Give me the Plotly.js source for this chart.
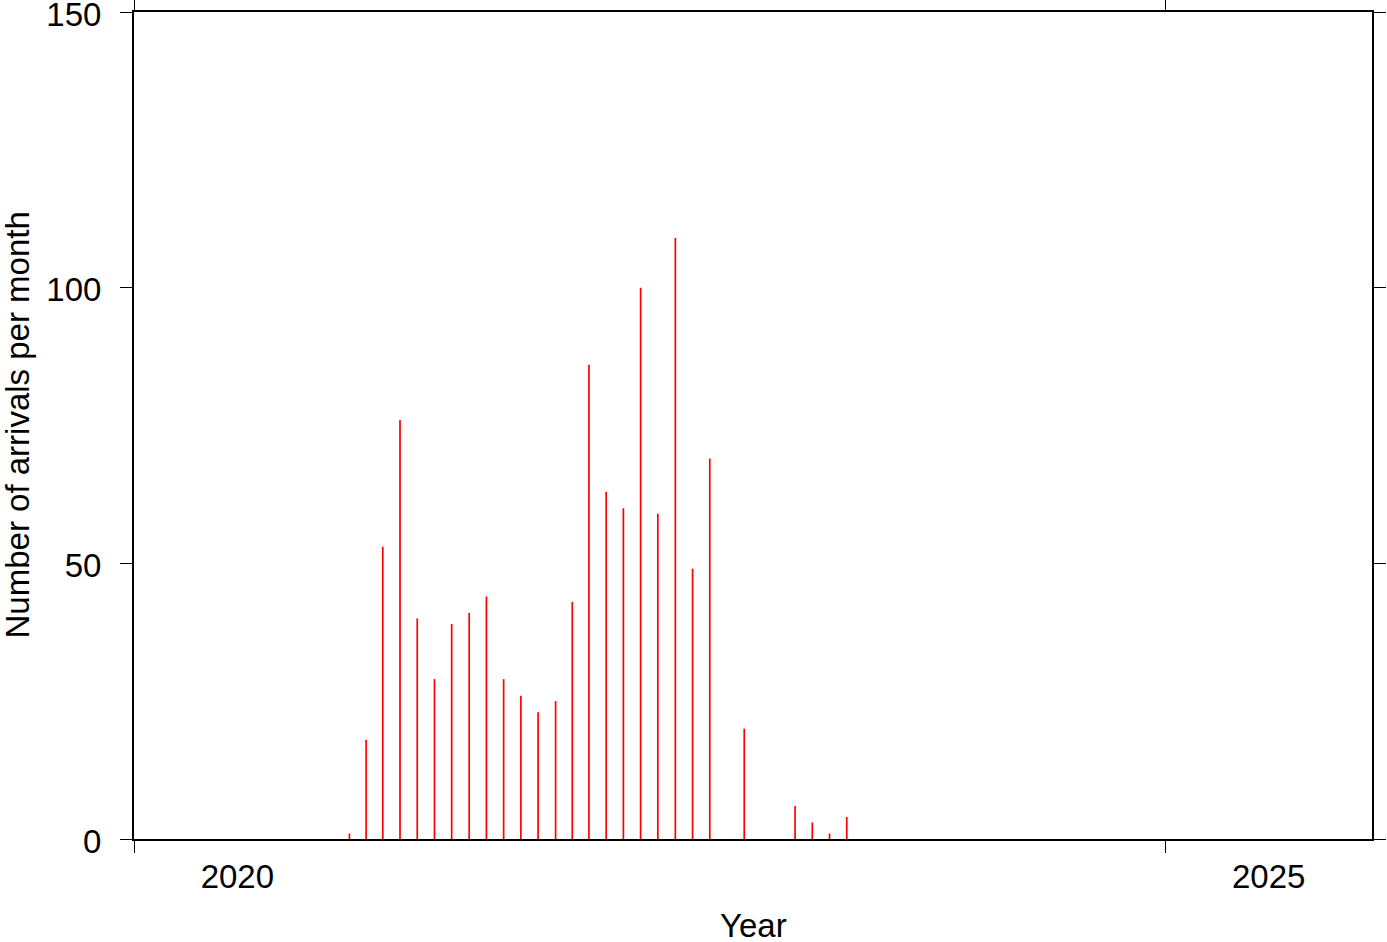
<!DOCTYPE html>
<html>
<head>
<meta charset="utf-8">
<script src="https://cdn.plot.ly/plotly-3.0.1.min.js"></script>
<style>html,body{margin:0;padding:0;background:#fff;}#chart{width:1387px;height:942px;}</style>
</head>
<body>
<div id="chart"></div>
<script>
// Monthly arrival counts
var months = ['2021-01','2021-02','2021-03','2021-04','2021-05','2021-06','2021-07','2021-08','2021-09','2021-10','2021-11','2021-12',
              '2022-01','2022-02','2022-03','2022-04','2022-05','2022-06','2022-07','2022-08','2022-09','2022-10','2022-11','2022-12',
              '2023-01','2023-02','2023-03','2023-04','2023-05','2023-06'];
var arrivals = [1,18,53,76,40,29,39,41,44,29,26,23,
                25,43,86,63,60,100,59,109,49,69,0,20,
                0,0,6,3,1,4];
var yearTickVals = ['2020-01-01','2025-01-01'];
var yearLabelVals = ['2020-07-02','2025-07-02'];
var yearLabels = ['2020','2025'];
var xRange = ['2020-01-01','2026-01-01'];
var yTicks = [0,50,100,150];
var xTitle = 'Year';
var yTitle = 'Number of arrivals per month';

var font = {family:'Liberation Sans, Arial, Helvetica, sans-serif', size:33, color:'#000'};

var trace = {
  type:'bar', x:months, y:arrivals, xperiod:'M1', xperiodalignment:'middle',
  width: 3*86400000,
  marker:{color:'#ff0000', line:{width:0}},
  hoverinfo:'x+y'
};

var layout = {
  width:1387, height:942,
  margin:{l:134, r:15, t:12, b:103},
  paper_bgcolor:'#fff', plot_bgcolor:'#fff',
  showlegend:false,
  font:font,
  xaxis:{
    type:'date', range:xRange, tickvals:yearTickVals, showticklabels:false,
    ticks:'outside', ticklen:12, tickwidth:1, tickcolor:'#000',
    showline:true, linewidth:2, linecolor:'#000', mirror:'allticks',
    showgrid:false, zeroline:false, fixedrange:true
  },
  xaxis2:{
    type:'date', overlaying:'x', anchor:'y', side:'bottom', range:xRange,
    tickvals:yearLabelVals, ticktext:yearLabels, ticks:'',
    ticklabelstandoff:15, showline:false, showgrid:false, zeroline:false,
    tickfont:font
  },
  yaxis:{
    range:[0,150], tickvals:yTicks, ticks:'outside', ticklen:12, tickwidth:1, tickcolor:'#000',
    showline:true, linewidth:2, linecolor:'#000', mirror:'allticks',
    showgrid:false, zeroline:false, tickfont:font, ticklabelstandoff:12,
    ticklabeloverflow:'allow', ticklabelshift:2
  },
  annotations:[
    {text:xTitle, xref:'paper', yref:'paper', x:0.5, y:0, xanchor:'center', yanchor:'middle',
     yshift:-86, showarrow:false, font:font},
    {text:yTitle, xref:'paper', yref:'paper', x:0, y:0.5, xanchor:'center', yanchor:'middle',
     xshift:-117, textangle:-90, showarrow:false, font:font}
  ]
};

var dummy = {type:'scatter', x:[], y:[], xaxis:'x2', yaxis:'y', showlegend:false, hoverinfo:'skip'};

Plotly.newPlot('chart', [trace, dummy], layout, {displayModeBar:false, staticPlot:true});
</script>
</body>
</html>
